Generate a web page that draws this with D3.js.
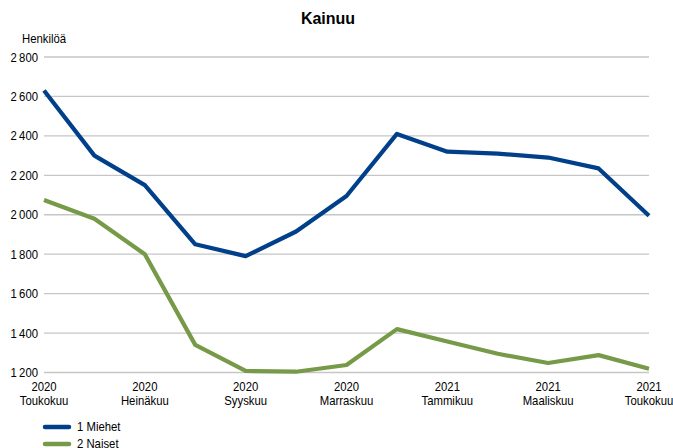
<!DOCTYPE html>
<html>
<head>
<meta charset="UTF-8">
<title>Kainuu</title>
<style>
    body { margin: 0; background: #fff; }
    text { font-family: "Liberation Sans", Arial, sans-serif; fill: #000; font-size: 12.6px; }
    .grid line { stroke: #c6c6c6; stroke-width: 1.3px; }
    .line { fill: none; stroke-width: 4.2px; stroke-linejoin: round; }
</style>
</head>
<body>
<svg width="673" height="448"></svg>
<script src="https://cdn.jsdelivr.net/npm/d3@7"></script>
<script>
    // kuukaudet (vuosi, kuukausi)
    var years = ["2020","2020","2020","2020","2020","2020","2020","2020","2021","2021","2021","2021","2021"];
    var months = ["Toukokuu","Kesäkuu","Heinäkuu","Elokuu","Syyskuu","Lokakuu","Marraskuu","Joulukuu",
                  "Tammikuu","Helmikuu","Maaliskuu","Huhtikuu","Toukokuu"];
    var miehet = [2630, 2300, 2150, 1850, 1790, 1915, 2095, 2410, 2320, 2310, 2290, 2235, 1995];
    var naiset = [2075, 1980, 1800, 1340, 1208, 1204, 1238, 1420, 1357, 1295, 1248, 1288, 1219];
    var yTicks = [1200, 1400, 1600, 1800, 2000, 2200, 2400, 2600, 2800];

    var series = [
        {name: "1 Miehet", values: miehet, color: "#003f8a"},
        {name: "2 Naiset", values: naiset, color: "#779a48"}
    ];

    var svg = d3.select("svg");
    var pLeft = 44, pRight = 649, pTop = 57, pBottom = 372.5;
    var sx = 0.9; // kapea kirjasin

    var x = d3.scaleLinear().domain([0, months.length - 1]).range([pLeft, pRight]);
    var y = d3.scaleLinear().domain([1200, 2800]).range([pBottom, pTop]);

    var fmt = function (d) { return d3.format(",")(d).replace(/,/g, "\u2009"); };

    // teksti kavennettuna
    function narrow(sel, tx, ty, anchor, str) {
        return sel.append("text")
            .attr("transform", "translate(" + tx + "," + ty + ") scale(" + sx + ",1)")
            .attr("text-anchor", anchor || "start")
            .text(str);
    }

    // otsikko
    svg.append("text")
        .attr("x", 328).attr("y", 24)
        .attr("text-anchor", "middle")
        .style("font-weight", "bold").style("font-size", "16px")
        .text("Kainuu");

    narrow(svg, 22, 43, "start", "Henkilöä");

    // vaakaviivat
    var grid = svg.append("g").attr("class", "grid");
    grid.selectAll("line").data(yTicks).enter().append("line")
        .attr("x1", pLeft).attr("x2", pRight)
        .attr("y1", function (d) { return y(d); })
        .attr("y2", function (d) { return y(d); });

    // y-akselin tekstit
    var yl = svg.append("g");
    yTicks.forEach(function (d) {
        narrow(yl, 38, y(d) + 4.5, "end", fmt(d));
    });

    // x-akselin tekstit joka toinen kuukausi
    var xl = svg.append("g");
    months.forEach(function (m, i) {
        if (i % 2) return;
        narrow(xl, x(i), 391, "middle", years[i]);
        narrow(xl, x(i), 405, "middle", m);
    });

    // viivat
    var line = d3.line()
        .x(function (d, i) { return x(i); })
        .y(function (d) { return y(d); });

    svg.selectAll(".line").data(series).enter().append("path")
        .attr("class", "line")
        .attr("stroke", function (d) { return d.color; })
        .attr("d", function (d) { return line(d.values); });

    // selite
    var leg = svg.selectAll(".leg").data(series).enter().append("g")
        .attr("transform", function (d, i) { return "translate(45," + (427 + i * 17) + ")"; });
    leg.append("line")
        .attr("x1", 0).attr("x2", 24)
        .attr("stroke", function (d) { return d.color; })
        .attr("stroke-width", 4.5).attr("stroke-linecap", "round");
    leg.each(function (d) {
        narrow(d3.select(this), 32, 3.5, "start", d.name);
    });
</script>
</body>
</html>
